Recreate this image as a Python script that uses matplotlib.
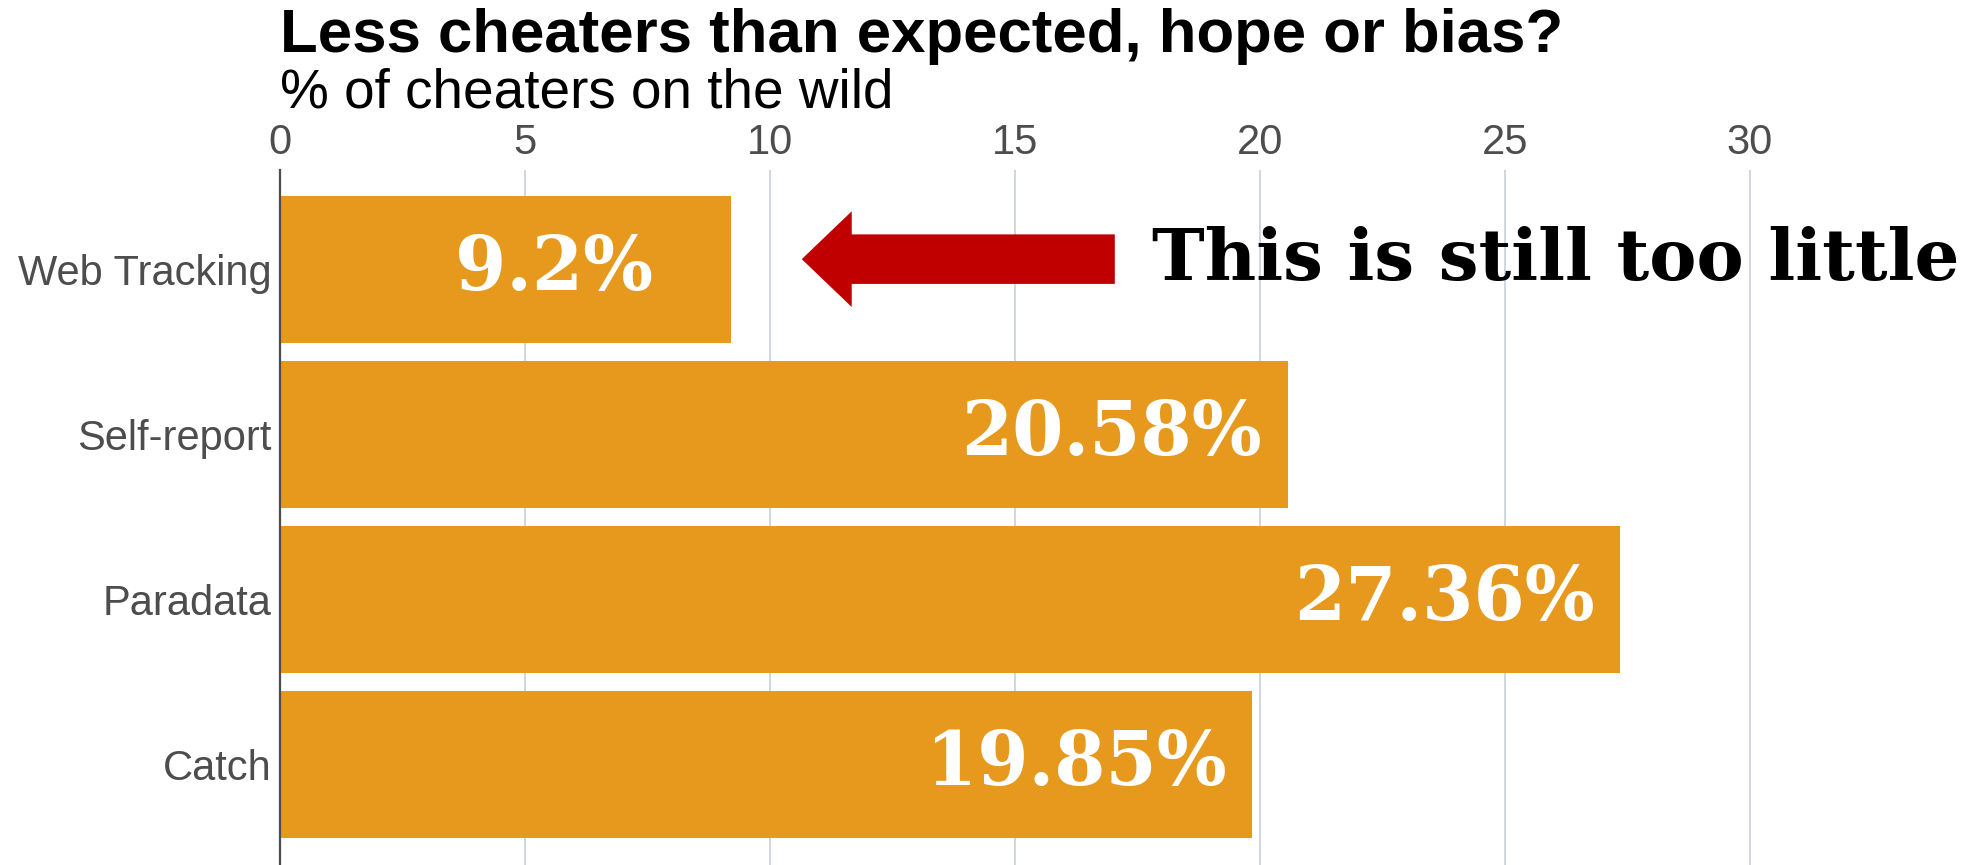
import matplotlib
matplotlib.use("Agg")
import matplotlib.pyplot as plt
from matplotlib.patches import FancyArrow

# Data
categories = ["Web Tracking", "Self-report", "Paradata", "Catch"]
values = [9.20, 20.58, 27.36, 19.85]
value_labels = ["9.2%", "20.58%", "27.36%", "19.85%"]
x_ticks = [0, 5, 10, 15, 20, 25, 30]

title = "Less cheaters than expected, hope or bias?"
subtitle = "% of cheaters on the wild"
note = "This is still too little"

BAR = "#E6991C"
GRID = "#C6D1DA"
TXT = "#4D4D4D"
RED = "#C00000"

plt.rcParams["font.family"] = ["Liberation Sans", "DejaVu Sans"]

W, H = 1980, 865
fig = plt.figure(figsize=(W / 100, H / 100), dpi=100)
ax = fig.add_axes([280 / W, 0, 1700 / W, (865 - 170) / H])

ypos = list(range(len(categories)))
ax.barh(ypos, values, height=0.89, color=BAR, zorder=2)

ax.set_xlim(0, 34.7)
ax.set_ylim(len(categories) - 1 + 0.61, -0.6)

ax.set_xticks(x_ticks)
ax.set_xticklabels([str(t) for t in x_ticks])
ax.set_yticks(ypos)
ax.set_yticklabels(categories)
ax.xaxis.tick_top()
ax.tick_params(axis="x", length=0, pad=5, labelsize=30, labelcolor=TXT)
ax.tick_params(axis="y", length=0, pad=6, labelsize=30, labelcolor=TXT)

ax.grid(axis="x", color=GRID, linewidth=1.2, zorder=0)
ax.set_axisbelow(True)
for side in ["top", "right", "bottom"]:
    ax.spines[side].set_visible(False)
ax.spines["left"].set_color(TXT)
ax.spines["left"].set_linewidth(1.6)
ax.spines["left"].set_zorder(3)

# Value labels inside the bars
for y, v, lab in zip(ypos, values, value_labels):
    ax.text(v - 3.6, y + 0.125, lab, ha="center", va="baseline",
            color="white", fontsize=53, fontweight="bold",
            family=["DejaVu Serif"], zorder=4)

# Callout arrow pointing at the first bar
tail, tip = 17.04, 10.65
ax.add_patch(FancyArrow(tail, -0.06, tip - tail, 0, width=0.30,
                        head_width=0.58, head_length=1.02,
                        length_includes_head=True, color=RED,
                        linewidth=0, zorder=5, clip_on=False))
ax.text(17.8, 0.064, note, ha="left", va="baseline", color="black",
        fontsize=51, fontweight="bold", family=["DejaVu Serif"],
        zorder=5, clip_on=False)

fig.text(280 / W, 1 - 52 / H, title, ha="left", va="baseline",
         fontsize=44.5, fontweight="bold", color="black")
fig.text(280 / W, 1 - 108 / H, subtitle, ha="left", va="baseline",
         fontsize=39.5, color="black")

fig.savefig("out.png", dpi=100, facecolor="white")
